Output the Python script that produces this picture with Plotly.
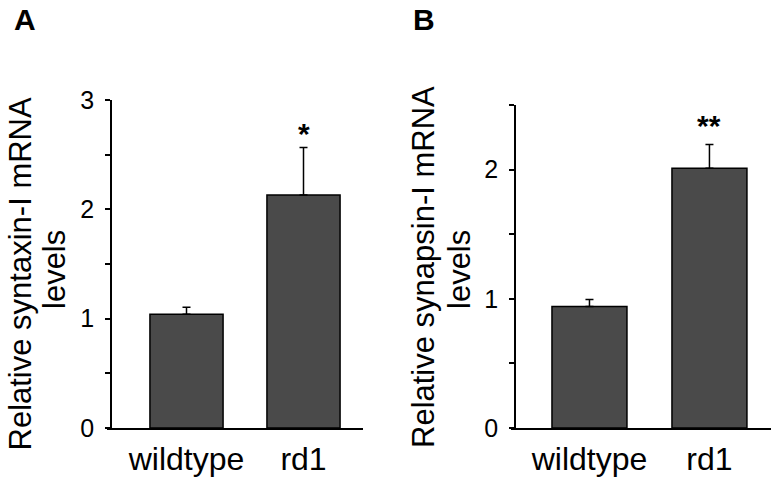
import plotly.graph_objects as go

W, H = 778, 481

categories = ["wildtype", "rd1"]
syntaxin_mean = [1.04, 2.13]
syntaxin_err = [0.065, 0.435]
synapsin_mean = [0.94, 2.01]
synapsin_err = [0.055, 0.185]
sig_A = ["", "*"]
sig_B = ["", "**"]
title_A = ["Relative syntaxin-I mRNA", "levels"]
title_B = ["Relative synapsin-I mRNA", "levels"]

FONT = "Liberation Sans, Arial, Helvetica, sans-serif"
BAR_FILL = "#4a4a4a"

def px_x(p):
    return p / W

def px_y(p):
    return 1 - p / H

fig = go.Figure()

def add_bars(xa, ya, means, errs):
    fig.add_trace(go.Bar(
        x=categories, y=means, xaxis=xa, yaxis=ya, width=0.625,
        marker=dict(color=BAR_FILL, line=dict(color="black", width=1.5)),
        error_y=dict(type="data", array=errs, arrayminus=[0] * len(errs),
                     symmetric=False, color="black", thickness=1.5, width=4),
        showlegend=False, hoverinfo="skip"))

add_bars("x", "y", syntaxin_mean, syntaxin_err)
add_bars("x2", "y2", synapsin_mean, synapsin_err)

yaxis_common = dict(
    showline=True, linecolor="black", linewidth=1.5, showgrid=False, zeroline=False,
    ticks="outside", ticklen=5, tickwidth=1.5, tickcolor="black", dtick=1, tick0=0,
    minor=dict(dtick=0.5, tick0=0, ticks="outside", ticklen=5, tickwidth=1.5, tickcolor="black", showgrid=False),
    tickfont=dict(family=FONT, size=25, color="black"), ticklabelstandoff=6,
    anchor="free", automargin=False, fixedrange=True)
xaxis_common = dict(
    showline=True, linecolor="black", linewidth=1.5, showgrid=False, zeroline=False,
    ticks="", tickfont=dict(family=FONT, size=32, color="black"),
    ticklabelstandoff=2, automargin=False, fixedrange=True)

fig.update_layout(
    width=W, height=H, margin=dict(l=0, r=0, t=0, b=0),
    paper_bgcolor="white", plot_bgcolor="white", showlegend=False,
    xaxis=dict(domain=[px_x(107), px_x(363)], range=[-0.6795, 1.5085], anchor="y", **xaxis_common),
    yaxis=dict(domain=[px_y(428), px_y(100)], range=[0, 3], position=px_x(111), **yaxis_common),
    xaxis2=dict(domain=[px_x(511), px_x(771)], range=[-0.654, 1.513], anchor="y2", **xaxis_common),
    yaxis2=dict(domain=[px_y(428), px_y(105)], range=[0, 2.5], position=px_x(515), **yaxis_common),
)

annotations = []
# significance marks
for xa, ya, means, errs, sig, off in [("x", "y", syntaxin_mean, syntaxin_err, sig_A, 0.125),
                                       ("x2", "y2", synapsin_mean, synapsin_err, sig_B, 0.15)]:
    for c, m, e, s in zip(categories, means, errs, sig):
        if s:
            annotations.append(dict(x=c, y=m + e + off, xref=xa, yref=ya, text="<b>" + s + "</b>",
                                    showarrow=False,
                                    font=dict(family=FONT, size=30, color="black"),
                                    xanchor="center", yanchor="middle"))
# axis titles (one annotation per line for exact line placement)
for lines, xs, ys in [(title_A, [19.5, 54], [274, 270]), (title_B, [423, 459], [267, 270])]:
    for t, xp, yp in zip(lines, xs, ys):
        annotations.append(dict(x=px_x(xp), y=px_y(yp), xref="paper", yref="paper",
                                text=t, textangle=-90, showarrow=False,
                                font=dict(family=FONT, size=31, color="black"),
                                xanchor="center", yanchor="middle"))
# panel letters
annotations.append(dict(x=px_x(25), y=px_y(19), xref="paper", yref="paper", text="<b>A</b>",
                        showarrow=False, font=dict(family=FONT, size=30, color="black"),
                        xanchor="center", yanchor="middle"))
annotations.append(dict(x=px_x(424), y=px_y(19), xref="paper", yref="paper", text="<b>B</b>",
                        showarrow=False, font=dict(family=FONT, size=30, color="black"),
                        xanchor="center", yanchor="middle"))
fig.update_layout(annotations=annotations)

fig.write_html("out.html", config={"displayModeBar": False},
               post_script="document.body.style.margin='0';document.body.style.overflow='hidden';")
